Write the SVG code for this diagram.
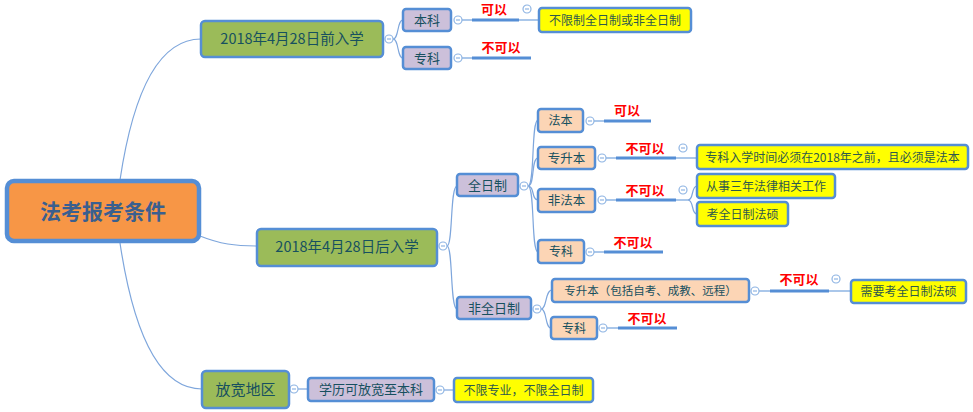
<svg xmlns="http://www.w3.org/2000/svg" width="973" height="412" viewBox="0 0 973 412">
<style>
text{font-family:"Noto Sans CJK SC","Noto Sans",sans-serif;text-anchor:middle}
.box{stroke:#558ED5;stroke-width:2.5}
.green{fill:#9BBB59}
.lav{fill:#CCC0DA}
.peach{fill:#FCD5B5}
.yel{fill:#FFFF00}
.t{fill:#17505F}
.ty{fill:#2F5A4C;font-size:12px}
.red{fill:#FF0000;font-weight:bold;font-size:13px}
.conn{fill:none;stroke:#7EA6DC;stroke-width:1.2}
.thin{fill:none;stroke:#8EB4E3;stroke-width:1.5}
.thick{fill:none;stroke:#558ED5;stroke-width:3}
.col circle{fill:#fff;stroke:#8EB4E3;stroke-width:1.2}
.col path{stroke:#8EB4E3;stroke-width:1.2}
</style>
<rect width="973" height="412" fill="#fff"/>
<g id="connectors">
<path class="conn" d="M120,180 C132,100 155,39 201,39"/>
<path class="conn" d="M200,236 C220,244 235,246 257,246"/>
<path class="conn" d="M120,243 C132,323 155,389 202,389"/>
<path class="conn" d="M393,39 C399,39 397,20 403,20"/>
<path class="conn" d="M393,39 C399,39 397,58 403,58"/>
<path class="conn" d="M447,246 C453,246 450,186 457,186"/>
<path class="conn" d="M447,246 C453,246 450,309 457,309"/>
<path class="conn" d="M528,186 C535,186 531,120 538,120"/>
<path class="conn" d="M528,186 C535,186 531,158 538,158"/>
<path class="conn" d="M528,186 C535,186 531,200 538,200"/>
<path class="conn" d="M528,186 C535,186 531,252 538,252"/>
<path class="conn" d="M541,309 C547,309 545,290 552,290"/>
<path class="conn" d="M541,309 C547,309 545,328 551,328"/>
<path class="conn" d="M298,389 L308,389"/>
<path class="conn" d="M444,390 L454,390"/>
<!-- 本科 -->
<path class="thin" d="M462,20 H472"/><path class="thick" d="M472,20 H519"/><path class="thin" d="M519,20 H539"/>
<!-- 专科 top -->
<path class="thin" d="M462,58 H472"/><path class="thick" d="M472,58 H531"/>
<!-- 法本 -->
<path class="thin" d="M594,121 H604"/><path class="thick" d="M604,121 H651"/>
<!-- 专升本 -->
<path class="thin" d="M606,158 H616"/><path class="thick" d="M616,158 H676"/><path class="thin" d="M676,158 H697"/>
<!-- 非法本 -->
<path class="thin" d="M606,200 H616"/><path class="thick" d="M616,200 H676"/><path class="thin" d="M676,200 H688"/>
<path class="conn" d="M688,200 C694,200 691,186 697,186"/>
<path class="conn" d="M688,200 C694,200 691,214 697,214"/>
<!-- 专科 全日制 -->
<path class="thin" d="M594,252 H604"/><path class="thick" d="M604,252 H663"/>
<!-- 专升本 非全日制 -->
<path class="thin" d="M759,291 H770"/><path class="thick" d="M770,291 H829"/><path class="thin" d="M829,291 H851"/>
<!-- 专科 非全日制 -->
<path class="thin" d="M607,328 H618"/><path class="thick" d="M618,328 H677"/>
</g>
<g class="col">
<circle cx="389" cy="39" r="4"/><path d="M387,39 H391"/>
<circle cx="458" cy="20" r="4"/><path d="M456,20 H460"/>
<circle cx="458" cy="58" r="4"/><path d="M456,58 H460"/>
<circle cx="527" cy="9" r="4"/><path d="M525,9 H529"/>
<circle cx="443" cy="246" r="4"/><path d="M441,246 H445"/>
<circle cx="524" cy="186" r="4"/><path d="M522,186 H526"/>
<circle cx="537" cy="309" r="4"/><path d="M535,309 H539"/>
<circle cx="590" cy="121" r="4"/><path d="M588,121 H592"/>
<circle cx="602" cy="158" r="4"/><path d="M600,158 H604"/>
<circle cx="683" cy="148" r="4"/><path d="M681,148 H685"/>
<circle cx="602" cy="200" r="4"/><path d="M600,200 H604"/>
<circle cx="683" cy="190" r="4"/><path d="M681,190 H685"/>
<circle cx="590" cy="252" r="4"/><path d="M588,252 H592"/>
<circle cx="755" cy="291" r="4"/><path d="M753,291 H757"/>
<circle cx="836" cy="279" r="4"/><path d="M834,279 H838"/>
<circle cx="603" cy="328" r="4"/><path d="M601,328 H605"/>
<circle cx="294" cy="389" r="4"/><path d="M292,389 H296"/>
<circle cx="440" cy="390" r="4"/><path d="M438,390 H442"/>
</g>
<g id="labels">
<text class="red" x="494" y="14">可以</text>
<text class="red" x="501" y="52">不可以</text>
<text class="red" x="627" y="115">可以</text>
<text class="red" x="645" y="153">不可以</text>
<text class="red" x="645" y="195">不可以</text>
<text class="red" x="633" y="247">不可以</text>
<text class="red" x="799" y="284">不可以</text>
<text class="red" x="647" y="323">不可以</text>
</g>
<g id="root">
<rect x="7" y="181" width="192" height="60" rx="7" fill="#F79646" stroke="#558ED5" stroke-width="4.5"/>
<text x="103" y="219" font-size="21" font-weight="bold" fill="#3A5F8F">法考报考条件</text>
</g>
<g id="n-before">
<rect class="box green" x="201" y="21" width="182" height="36" rx="4"/>
<text class="t" x="292" y="44" font-size="14.5">2018年4月28日前入学</text>
</g>
<g id="n-before-bk">
<rect class="box lav" x="403" y="9" width="48" height="22" rx="3"/>
<text class="t" x="427" y="25" font-size="13">本科</text>
</g>
<g id="n-before-bk-y">
<rect class="box yel" x="539" y="8" width="152" height="24" rx="3"/>
<text class="ty" x="615" y="24.5">不限制全日制或非全日制</text>
</g>
<g id="n-before-zk">
<rect class="box lav" x="403" y="47" width="48" height="22" rx="3"/>
<text class="t" x="427" y="63" font-size="13">专科</text>
</g>
<g id="n-after">
<rect class="box green" x="257" y="229" width="180" height="37" rx="4"/>
<text class="t" x="347" y="252" font-size="14.5">2018年4月28日后入学</text>
</g>
<g id="n-full">
<rect class="box lav" x="457" y="174" width="61" height="22" rx="3"/>
<text class="t" x="487.5" y="190" font-size="13">全日制</text>
</g>
<g id="n-fb">
<rect class="box peach" x="538" y="109" width="45" height="23" rx="3"/>
<text class="t" x="560.5" y="125" font-size="12">法本</text>
</g>
<g id="n-zsb">
<rect class="box peach" x="538" y="147" width="57" height="22" rx="3"/>
<text class="t" x="566.5" y="162.5" font-size="12.5">专升本</text>
</g>
<g id="n-zsb-y">
<rect class="box yel" x="697" y="145" width="271" height="24" rx="3"/>
<text class="ty" x="832.5" y="161.5">专科入学时间必须在2018年之前，且必须是法本</text>
</g>
<g id="n-ffb">
<rect class="box peach" x="538" y="189" width="57" height="23" rx="3"/>
<text class="t" x="566.5" y="205" font-size="12.5">非法本</text>
</g>
<g id="n-ffb-y1">
<rect class="box yel" x="697" y="174" width="138" height="24" rx="3"/>
<text class="ty" x="766" y="190.5">从事三年法律相关工作</text>
</g>
<g id="n-ffb-y2">
<rect class="box yel" x="697" y="202" width="91" height="24" rx="3"/>
<text class="ty" x="742.5" y="218.5">考全日制法硕</text>
</g>
<g id="n-full-zk">
<rect class="box peach" x="538" y="240" width="46" height="23" rx="3"/>
<text class="t" x="561" y="256" font-size="12">专科</text>
</g>
<g id="n-part">
<rect class="box lav" x="457" y="297" width="74" height="22" rx="3"/>
<text class="t" x="494" y="313" font-size="13">非全日制</text>
</g>
<g id="n-part-zsb">
<rect class="box peach" x="552" y="279" width="197" height="23" rx="3"/>
<text class="t" x="650.5" y="295" font-size="11.5">专升本（包括自考、成教、远程）</text>
</g>
<g id="n-part-zsb-y">
<rect class="box yel" x="851" y="280" width="115" height="23" rx="3"/>
<text class="ty" x="908.5" y="296">需要考全日制法硕</text>
</g>
<g id="n-part-zk">
<rect class="box peach" x="551" y="317" width="46" height="22" rx="3"/>
<text class="t" x="574" y="332.5" font-size="12">专科</text>
</g>
<g id="n-region">
<rect class="box green" x="202" y="371" width="87" height="37" rx="4"/>
<text class="t" x="245.5" y="395" font-size="15">放宽地区</text>
</g>
<g id="n-region-lav">
<rect class="box lav" x="308" y="378" width="126" height="23" rx="3"/>
<text class="t" x="371" y="394" font-size="13">学历可放宽至本科</text>
</g>
<g id="n-region-y">
<rect class="box yel" x="454" y="378" width="139" height="24" rx="3"/>
<text class="ty" x="523.5" y="394.5">不限专业，不限全日制</text>
</g>
</svg>
